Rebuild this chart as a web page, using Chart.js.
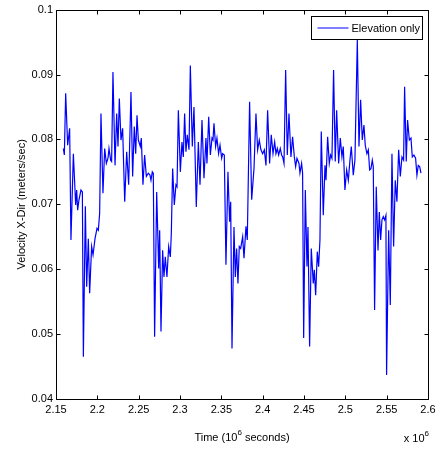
<!DOCTYPE html>
<html>
<head>
<meta charset="utf-8">
<script src="https://cdn.jsdelivr.net/npm/chart.js@4/dist/chart.umd.min.js"></script>
<style>
  html, body { margin: 0; padding: 0; background: #fff; }
  #wrap { width: 445px; height: 451px; }
</style>
</head>
<body>
<div id="wrap"><canvas id="c" width="445" height="451"></canvas></div>
<script>
// Time stamps in units of 10^6 seconds
const timeMega = [
  2.1589,2.1601,2.1617,2.1641,2.1665,2.1681,2.1710,2.1738,2.1750,2.1762,
  2.1778,2.1802,2.1819,2.1831,2.1855,2.1871,2.1891,2.1907,2.1931,2.1948,
  2.1972,2.1996,2.2012,2.2028,2.2044,2.2068,2.2089,2.2109,2.2129,2.2141,
  2.2161,2.2173,2.2189,2.2214,2.2234,2.2250,2.2266,2.2286,2.2306,2.2331,
  2.2355,2.2379,2.2407,2.2427,2.2447,2.2464,2.2480,2.2496,2.2520,2.2532,
  2.2552,2.2572,2.2593,2.2617,2.2637,2.2649,2.2665,2.2677,2.2693,2.2718,
  2.2742,2.2754,2.2770,2.2790,2.2806,2.2822,2.2842,2.2863,2.2883,2.2895,
  2.2911,2.2931,2.2951,2.2964,
  2.2980,2.3004,2.3024,2.3040,2.3056,2.3072,2.3088,2.3109,2.3125,2.3149,
  2.3169,2.3197,2.3222,2.3242,2.3266,2.3290,2.3314,2.3326,2.3347,2.3367,
  2.3387,2.3399,2.3411,2.3431,2.3447,2.3467,2.3484,2.3504,2.3516,2.3536,
  2.3556,2.3580,2.3600,2.3613,2.3629,2.3653,2.3669,2.3685,2.3701,2.3717,
  2.3734,2.3758,2.3774,2.3798,2.3814,2.3842,2.3867,2.3895,2.3919,2.3939,
  2.3959,2.3979,2.4000,2.4020,2.4040,2.4060,2.4084,2.4104,2.4125,2.4145,
  2.4161,2.4177,2.4193,2.4213,2.4229,2.4242,2.4258,2.4278,2.4298,2.4318,
  2.4342,2.4362,2.4383,2.4399,2.4415,
  2.4439,2.4451,2.4471,2.4483,2.4496,2.4516,2.4536,2.4548,2.4568,2.4588,
  2.4612,2.4625,2.4641,2.4661,2.4677,2.4693,2.4709,2.4733,2.4754,2.4766,
  2.4786,2.4806,2.4822,2.4838,2.4858,2.4878,2.4895,2.4919,2.4939,2.4959,
  2.4975,2.4995,2.5016,2.5036,2.5056,2.5072,2.5096,2.5116,2.5145,2.5165,
  2.5185,2.5205,2.5225,2.5241,2.5261,2.5278,2.5294,2.5310,2.5326,2.5338,
  2.5354,2.5374,2.5395,2.5411,2.5427,2.5443,2.5459,2.5475,2.5491,2.5499,
  2.5524,2.5544,2.5564,2.5584,2.5604,2.5624,2.5645,2.5665,2.5685,2.5705,
  2.5717,2.5737,2.5753,2.5774,2.5794,2.5810,2.5830,2.5850,2.5866,2.5882,
  2.5899,2.5915
];

// Velocity in the X direction (meters/sec)
const velocity = [
  0.0786,0.0776,0.0871,0.0791,0.0817,0.0645,0.0778,0.0699,0.0722,0.0691,
  0.0707,0.0722,0.0719,0.0465,0.0697,0.0573,0.0647,0.0563,0.0635,0.0622,
  0.0647,0.0663,0.0660,0.0686,0.0840,0.0717,0.0786,0.0763,0.0771,0.0786,
  0.0768,0.0766,0.0904,0.0760,0.0840,0.0789,0.0863,0.0799,0.0817,0.0704,
  0.0781,0.0730,0.0873,0.0743,0.0820,0.0778,0.0837,0.0799,0.0789,0.0802,
  0.0730,0.0776,0.0743,0.0748,0.0745,0.0737,0.0750,0.0748,0.0496,0.0719,
  0.0601,0.0660,0.0504,0.0629,0.0588,0.0619,0.0588,0.0635,0.0619,0.0655,
  0.0755,0.0699,0.0730,0.0727,
  0.0845,0.0750,0.0796,0.0773,0.0840,0.0781,0.0807,0.0784,0.0914,0.0789,
  0.0850,0.0696,0.0796,0.0730,0.0830,0.0740,0.0802,0.0763,0.0835,0.0776,
  0.0802,0.0799,0.0825,0.0789,0.0802,0.0778,0.0791,0.0771,0.0778,0.0776,
  0.0607,0.0750,0.0673,0.0704,0.0478,0.0665,0.0588,0.0632,0.0578,0.0635,
  0.0632,0.0650,0.0617,0.0666,0.0645,0.0858,0.0707,0.0755,0.0840,0.0784,
  0.0799,0.0784,0.0778,0.0784,0.0760,0.0845,0.0763,0.0807,0.0778,0.0796,
  0.0778,0.0786,0.0776,0.0786,0.0776,0.0773,0.0763,0.0907,0.0776,0.0840,
  0.0773,0.0804,0.0773,0.0758,0.0771,
  0.0763,0.0748,0.0763,0.0748,0.0494,0.0722,0.0604,0.0665,0.0481,0.0632,
  0.0578,0.0599,0.0560,0.0627,0.0604,0.0645,0.0812,0.0683,0.0760,0.0737,
  0.0804,0.0763,0.0776,0.0771,0.0907,0.0766,0.0845,0.0763,0.0802,0.0773,
  0.0789,0.0722,0.0753,0.0737,0.0768,0.0789,0.0745,0.0768,0.0953,0.0789,
  0.0861,0.0799,0.0822,0.0791,0.0778,0.0784,0.0753,0.0755,0.0768,0.0758,
  0.0537,0.0727,0.0629,0.0688,0.0645,0.0676,0.0681,0.0676,0.0683,0.0437,
  0.0660,0.0545,0.0778,0.0635,0.0737,0.0704,0.0784,0.0743,0.0773,0.0768,
  0.0881,0.0766,0.0830,0.0799,0.0802,0.0773,0.0776,0.0771,0.0745,0.0760,
  0.0758,0.0748
];

const seriesName = 'Elevation only';
const xTitleMain = ['Time (10', '6', ' seconds)'];
const yTitle = 'Velocity X-Dir (meters/sec)';
const xExponent = ['x 10', '6'];

const FONT = '"Liberation Sans", Arial, Helvetica, sans-serif';
Chart.defaults.font.family = FONT;
Chart.defaults.font.size = 11;
Chart.defaults.color = '#000';

const points = timeMega.map((t, i) => ({ x: t, y: velocity[i] }));

function trimNum(v) { return String(Number(v.toFixed(2))); }

// Draws text pieces where every second piece is a superscript
function drawSupText(ctx, parts, x, baseline, align) {
  const big = '11px ' + FONT, small = '8px ' + FONT;
  let widths = parts.map((p, i) => { ctx.font = i % 2 ? small : big; return ctx.measureText(p).width; });
  const total = widths.reduce((a, b) => a + b, 0);
  let cx = align === 'center' ? x - total / 2 : (align === 'right' ? x - total : x);
  ctx.textAlign = 'left';
  ctx.textBaseline = 'alphabetic';
  parts.forEach((p, i) => {
    ctx.font = i % 2 ? small : big;
    ctx.fillText(p, cx, i % 2 ? baseline - 6 : baseline);
    cx += widths[i];
  });
}

const framePlugin = {
  id: 'frame',
  afterDatasetsDraw(chart) {
    const { ctx, chartArea: a, scales: { x, y } } = chart;
    const L = Math.round(a.left) + 0.5, R = Math.round(a.right) + 0.5;
    const T = Math.round(a.top) + 0.5, B = Math.round(a.bottom) + 0.5;
    const tick = 4;
    ctx.save();
    ctx.strokeStyle = '#000';
    ctx.lineWidth = 1;
    ctx.beginPath();
    ctx.rect(L, T, R - L, B - T);
    x.ticks.forEach(t => {
      const px = Math.round(x.getPixelForValue(t.value)) + 0.5;
      ctx.moveTo(px, B); ctx.lineTo(px, B - tick);
      ctx.moveTo(px, T); ctx.lineTo(px, T + tick);
    });
    y.ticks.forEach(t => {
      const py = Math.round(y.getPixelForValue(t.value)) + 0.5;
      ctx.moveTo(L, py); ctx.lineTo(L + tick, py);
      ctx.moveTo(R, py); ctx.lineTo(R - tick, py);
    });
    ctx.stroke();

    // legend box in the upper-right corner of the axes
    const ds = chart.data.datasets[0];
    const bx = 311.5, by = 16.5, bw = 111, bh = 23;
    ctx.fillStyle = '#fff';
    ctx.fillRect(bx, by, bw, bh);
    ctx.strokeRect(bx, by, bw, bh);
    ctx.strokeStyle = ds.borderColor;
    ctx.lineWidth = 1;
    ctx.beginPath();
    ctx.moveTo(bx + 6, by + 11.5); ctx.lineTo(bx + 37, by + 11.5);
    ctx.stroke();
    ctx.fillStyle = '#000';
    ctx.font = '11px ' + FONT;
    ctx.textAlign = 'left';
    ctx.textBaseline = 'middle';
    ctx.fillText(ds.label, bx + 40, by + 12);

    // axis title and exponent below the x axis
    drawSupText(ctx, xTitleMain, (a.left + a.right) / 2, 441, 'center');
    drawSupText(ctx, xExponent, a.right + 1, 442, 'right');
    ctx.restore();
  }
};

new Chart(document.getElementById('c'), {
  type: 'line',
  data: {
    datasets: [{
      label: seriesName,
      data: points,
      borderColor: '#0000ff',
      borderWidth: 1.2,
      pointRadius: 0,
      tension: 0,
      fill: false
    }]
  },
  options: {
    responsive: false,
    devicePixelRatio: 1,
    animation: false,
    layout: { padding: { left: 0, top: 9, right: 17, bottom: 0 } },
    plugins: { legend: { display: false }, tooltip: { enabled: false } },
    scales: {
      x: {
        type: 'linear',
        min: 2.15, max: 2.6,
        grid: { display: false, drawTicks: false },
        border: { display: false },
        ticks: { stepSize: 0.05, padding: 4, maxRotation: 0, autoSkip: false,
                 callback: v => trimNum(v) },
        afterFit: s => { s.height = 52; }
      },
      y: {
        min: 0.04, max: 0.1,
        grid: { display: false, drawTicks: false },
        border: { display: false },
        ticks: { stepSize: 0.01, padding: 3, callback: v => trimNum(v) },
        title: { display: true, text: yTitle, padding: { top: 15, bottom: 0 },
                 font: { size: 11 } },
        afterFit: s => { s.width = 56; }
      }
    }
  },
  plugins: [framePlugin]
});
</script>
</body>
</html>
